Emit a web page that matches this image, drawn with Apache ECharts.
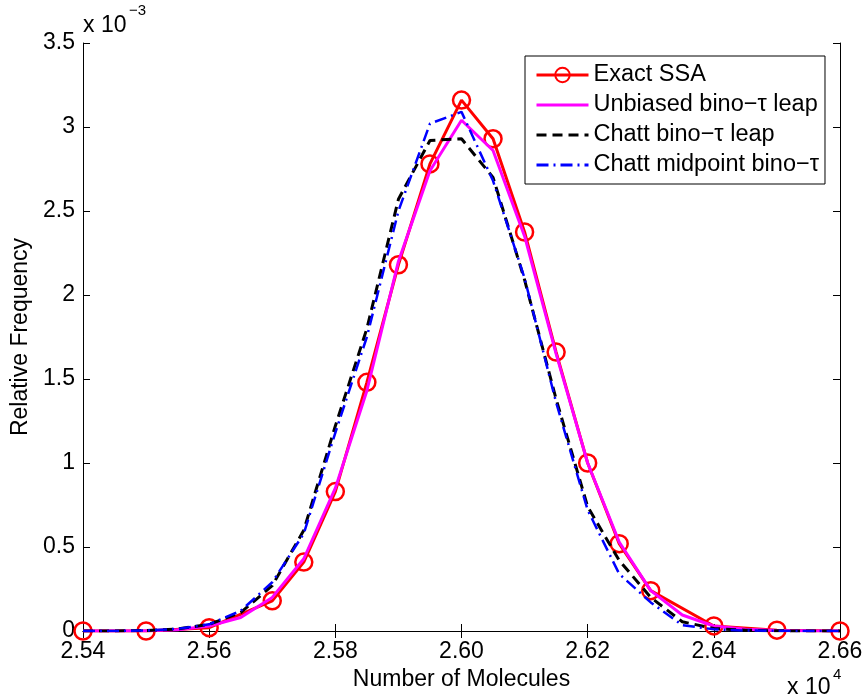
<!DOCTYPE html>
<html>
<head>
<meta charset="utf-8">
<script src="https://cdn.jsdelivr.net/npm/echarts@6/dist/echarts.min.js"></script>
<style>
  html, body { margin: 0; padding: 0; background: #fff; }
  #chart { width: 866px; height: 700px; }
</style>
</head>
<body>
<div id="chart"></div>
<script>
// x in molecules, y in units of 1e-3
const xExact = [25400, 25500, 25600, 25700, 25750, 25800, 25850, 25900, 25950, 26000,
                26050, 26100, 26150, 26200, 26250, 26300, 26400, 26500, 26600];
const yExact = [0, 0, 0.02, 0.18, 0.41, 0.83, 1.48, 2.18, 2.78, 3.16,
                2.93, 2.375, 1.66, 1.0, 0.52, 0.24, 0.03, 0.005, 0];

const xFine = [25400, 25450, 25500, 25550, 25600, 25650, 25700, 25750, 25800, 25850,
               25900, 25950, 26000, 26050, 26100, 26150, 26200, 26250, 26300, 26350,
               26400, 26450, 26500, 26550, 26600];
const yUnbiased = [0, 0, 0.002, 0.008, 0.03, 0.08, 0.2, 0.43, 0.85, 1.43,
                   2.2, 2.74, 3.04, 2.86, 2.35, 1.65, 1.0, 0.53, 0.24, 0.095,
                   0.03, 0.01, 0.003, 0.001, 0];
const yChatt = [0, 0, 0.003, 0.012, 0.04, 0.11, 0.27, 0.6, 1.22, 1.8,
                2.57, 2.92, 2.93, 2.7, 2.09, 1.38, 0.74, 0.42, 0.2, 0.055,
                0.015, 0.005, 0.001, 0, 0];
const yMidpoint = [0, 0, 0.003, 0.013, 0.04, 0.12, 0.29, 0.58, 1.18, 1.75,
                   2.5, 3.02, 3.09, 2.68, 2.1, 1.36, 0.72, 0.34, 0.17, 0.035,
                   0.01, 0.003, 0.001, 0, 0];

const seriesNames = ['Exact SSA', 'Unbiased bino\u2212\u03c4 leap', 'Chatt bino\u2212\u03c4 leap', 'Chatt midpoint bino\u2212\u03c4'];

function pairs(xs, ys) {
  return xs.map((x, i) => [x, ys[i]]);
}

const FONT = "'Liberation Sans', Arial, Helvetica, sans-serif";
const chart = echarts.init(document.getElementById('chart'));

const axisCommon = {
  axisLine: { lineStyle: { color: '#000', width: 1 } },
  axisTick: { inside: true, length: 7, lineStyle: { color: '#000' } },
  splitLine: { show: false }
};

const option = {
  animation: false,
  backgroundColor: '#fff',
  grid: { left: 83, right: 26, top: 43, bottom: 69 },
  xAxis: [
    Object.assign({
      type: 'value', min: 25400, max: 26600, interval: 200, position: 'bottom',
      name: 'Number of Molecules', nameLocation: 'middle', nameGap: 33,
      nameTextStyle: { fontFamily: FONT, fontSize: 23, color: '#000' },
      axisLabel: {
        margin: 9, fontFamily: FONT, fontSize: 23, color: '#000',
        formatter: v => (v / 1e4).toFixed(2)
      }
    }, axisCommon),
    Object.assign({
      type: 'value', min: 25400, max: 26600, interval: 200, position: 'top',
      axisLabel: { show: false }
    }, axisCommon)
  ],
  yAxis: [
    Object.assign({
      type: 'value', min: 0, max: 3.5, interval: 0.5, position: 'left',
      name: 'Relative Frequency', nameLocation: 'middle', nameGap: 44,
      nameTextStyle: { fontFamily: FONT, fontSize: 23, color: '#000' },
      axisLabel: {
        margin: 8, fontFamily: FONT, fontSize: 23, color: '#000',
        formatter: v => String(v)
      }
    }, axisCommon),
    Object.assign({
      type: 'value', min: 0, max: 3.5, interval: 0.5, position: 'right',
      axisLabel: { show: false }
    }, axisCommon)
  ],
  legend: {
    orient: 'vertical', left: 525, top: 56,
    padding: [7, 6, 7, 10], itemGap: 6,
    itemWidth: 52, itemHeight: 18,
    borderColor: '#000', borderWidth: 1, borderRadius: 0,
    backgroundColor: '#fff',
    lineStyle: { width: 3 },
    textStyle: { fontFamily: FONT, fontSize: 23.5, color: '#000' },
    data: [
      { name: seriesNames[0] },
      { name: seriesNames[1], itemStyle: { opacity: 0 } },
      { name: seriesNames[2], itemStyle: { opacity: 0 } },
      { name: seriesNames[3], itemStyle: { opacity: 0 } }
    ]
  },
  graphic: [
    { type: 'text', left: 83, top: 14, style: { text: 'x 10', font: '23px ' + FONT, fill: '#000' } },
    { type: 'text', left: 129, top: 3, style: { text: '\u22123', font: '15px ' + FONT, fill: '#000' } },
    { type: 'text', left: 787, top: 676, style: { text: 'x 10', font: '23px ' + FONT, fill: '#000' } },
    { type: 'text', left: 833, top: 667, style: { text: '4', font: '15px ' + FONT, fill: '#000' } }
  ],
  series: [
    {
      name: seriesNames[0], type: 'line', data: pairs(xExact, yExact),
      symbol: 'circle', symbolSize: 17,
      itemStyle: { color: 'rgba(255,255,255,0)', borderColor: '#ff0000', borderWidth: 2.5 },
      lineStyle: { color: '#ff0000', width: 3 },
      z: 2
    },
    {
      name: seriesNames[1], type: 'line', data: pairs(xFine, yUnbiased),
      showSymbol: false, symbol: 'none',
      itemStyle: { color: '#ff00ff' },
      lineStyle: { color: '#ff00ff', width: 3 },
      z: 3
    },
    {
      name: seriesNames[2], type: 'line', data: pairs(xFine, yChatt),
      showSymbol: false, symbol: 'none',
      itemStyle: { color: '#000' },
      lineStyle: { color: '#000', width: 3, type: [10, 6] },
      z: 4
    },
    {
      name: seriesNames[3], type: 'line', data: pairs(xFine, yMidpoint),
      showSymbol: false, symbol: 'none',
      itemStyle: { color: '#0000ff' },
      lineStyle: { color: '#0000ff', width: 2.5, type: [12, 5, 2, 5] },
      z: 5
    }
  ]
};

chart.setOption(option);
</script>
</body>
</html>
